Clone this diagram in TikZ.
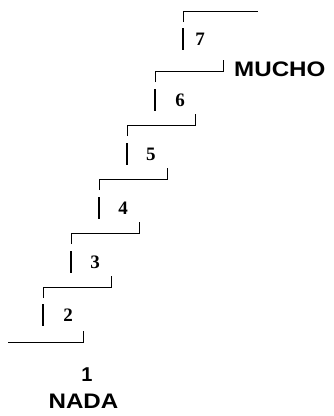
\documentclass[tikz,border=0pt]{standalone}
\usepackage{fontspec}
\setmainfont{Liberation Serif}
\newfontfamily\arialw{Liberation Sans}[FakeStretch=1.15]
\newfontfamily\arial{Liberation Sans}
\usetikzlibrary{positioning}

\begin{document}
\begin{tikzpicture}[x=1pt, y=-1pt,
   stair/.style={draw, line width=1pt},
   bar/.style={draw, line width=1.6pt},
   num/.style={inner sep=0pt, font=\fontsize{19}{19}\selectfont\bfseries},
   lbl/.style={inner sep=0pt, font=\fontsize{21}{21}\selectfont\arialw\bfseries}]
  \useasboundingbox (0,0) rectangle (334,416);
  % escalones
  \draw[stair] (8,342) -- (83,342) -- (83,331);
  \foreach \k/\xa/\xb/\y in {2/43/111/287, 3/71/139/233, 4/99/167/179, 5/127/195/125, 6/155/223/71}
    \draw[stair] (\xa,\y+11) -- (\xa,\y) -- (\xb,\y) -- (\xb,\y-11);
  \draw[stair] (183,22) -- (183,11) -- (258,11);
  % barras y numeros
  \foreach \k/\bx/\by/\nx in {2/43/315/68, 3/71/262/95, 4/99/208/123, 5/127/154/151, 6/155/100/180, 7/183/39/200}{
    \draw[bar] (\bx,\by-11) -- (\bx,\by+11);
    \node[num] (n\k) at (\nx,\by) {\k};
  }
  \node[inner sep=0pt, font=\fontsize{20}{20}\selectfont\arial\bfseries] (n1) at (87,375) {1};
  \node[lbl] (nada) at (83.5,401) {NADA};
  \node[lbl, anchor=west] (mucho) at (234,69.5) {MUCHO};
\end{tikzpicture}
\end{document}
